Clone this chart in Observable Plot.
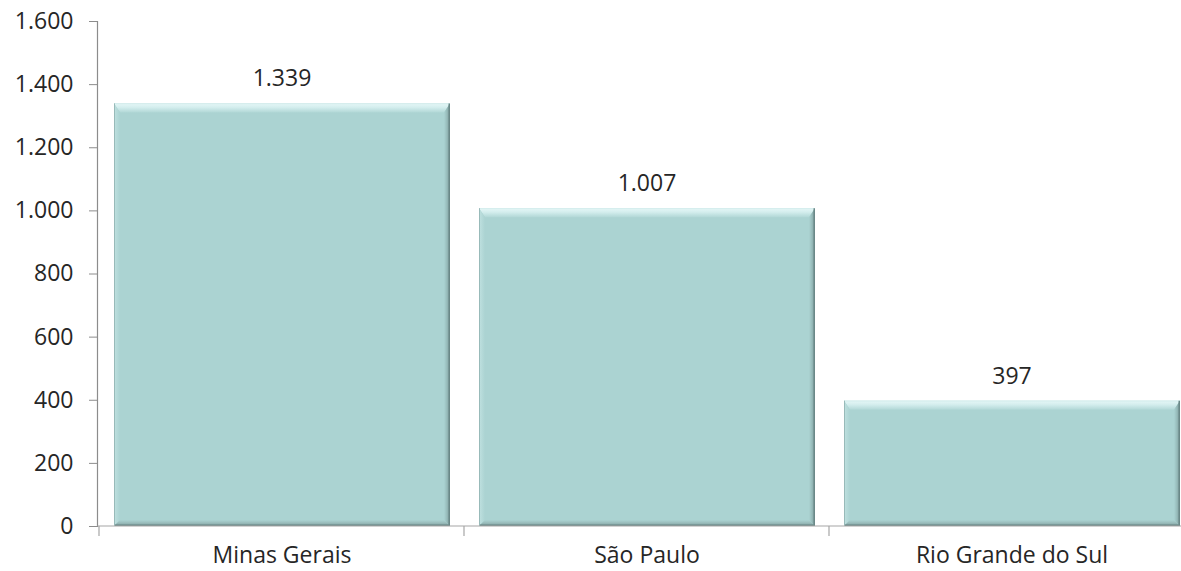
<!DOCTYPE html>
<html>
<head>
<meta charset="utf-8">
<script src="https://cdn.jsdelivr.net/npm/d3@7"></script>
<script src="https://cdn.jsdelivr.net/npm/@observablehq/plot@0.6"></script>
<style>
  html, body { margin: 0; padding: 0; background: #ffffff; }
  #chart svg { display: block; }
</style>
</head>
<body>
<div id="chart"></div>
<script>
// Estados e valores
const states = ["Minas Gerais", "São Paulo", "Rio Grande do Sul"];
const values = [1339, 1007, 397];
const yTicks = [0, 200, 400, 600, 800, 1000, 1200, 1400, 1600];

const data = states.map((state, i) => ({state, value: values[i]}));

// Brazilian number format: 1.339
const br = d3.formatLocale({decimal: ",", thousands: ".", grouping: [3], currency: ["R$", ""]});
const fmt = br.format(",d");

const FONT = "'Open Sans', sans-serif";
const TEXT = "#262626";
const BAR = "#abd3d2";

// Bevelled bars: draw the default rects, then overlay light/dark edges on each one
function bevel(index, scales, values, dimensions, context, next) {
  const g = next(index, scales, values, dimensions, context);
  const svg = d3.select(g);
  const rects = [];
  svg.selectAll("rect").each(function () { rects.push(this); });
  for (const r of rects) {
    const x = +r.getAttribute("x"), y = +r.getAttribute("y");
    const w = +r.getAttribute("width"), h = +r.getAttribute("height");
    const b = 9, s = 6;
    const parent = d3.select(r.parentNode);
    const poly = (pts, fill) => parent.append("polygon")
      .attr("points", pts.map(p => p.join(",")).join(" "))
      .attr("fill", fill);
    // top highlight
    poly([[x, y], [x + w, y], [x + w - s, y + b], [x + s, y + b]], "url(#bevel-top)");
    // left edge
    poly([[x, y], [x + s, y + b], [x + s, y + h - s], [x, y + h]], "url(#bevel-left)");
    // right edge (shadow)
    poly([[x + w, y], [x + w, y + h], [x + w - s, y + h - s], [x + w - s, y + b]], "url(#bevel-right)");
    // bottom edge (shadow)
    poly([[x, y + h], [x + w, y + h], [x + w - s, y + h - s], [x + s, y + h - s]], "url(#bevel-bottom)");
    // crisp outer edges
    parent.append("path")
      .attr("d", `M${x},${y + 0.5}H${x + w}`)
      .attr("stroke", "#d6eeee").attr("stroke-width", 1).attr("fill", "none");
    parent.append("path")
      .attr("d", `M${x + w - 0.75},${y}V${y + h - 0.75}H${x}`)
      .attr("stroke", "#6a8887").attr("stroke-width", 1.5).attr("fill", "none");
    parent.append("path")
      .attr("d", `M${x + 0.5},${y}V${y + h}`)
      .attr("stroke", "#98bab9").attr("stroke-width", 1).attr("fill", "none");
  }
  return g;
}

// Gradients used by the bevel edges
function defs() {
  const d = d3.create("svg:defs");
  const grad = (id, x1, y1, x2, y2, stops) => {
    const lg = d.append("linearGradient").attr("id", id)
      .attr("x1", x1).attr("y1", y1).attr("x2", x2).attr("y2", y2);
    for (const [o, c] of stops) lg.append("stop").attr("offset", o).attr("stop-color", c);
  };
  grad("bevel-top", 0, 0, 0, 1, [[0, "#e6f7f7"], [0.45, "#d3eded"], [1, "#b2d8d7"]]);
  grad("bevel-left", 0, 0, 1, 0, [[0, "#c0e1e0"], [1, BAR]]);
  grad("bevel-right", 0, 0, 1, 0, [[0, BAR], [0.5, "#97bbba"], [1, "#789796"]]);
  grad("bevel-bottom", 0, 0, 0, 1, [[0, BAR], [0.5, "#99bcbb"], [1, "#7c9b9a"]]);
  return d.node();
}

// Axis lines and boundary ticks between the category bands
function axes(index, scales, values, dimensions) {
  const {x, y} = scales;
  const {width, marginLeft, marginTop} = dimensions;
  const g = d3.create("svg:g").attr("fill", "none");
  const y0 = y(0);
  const left = marginLeft - 0.5;
  g.append("path").attr("d", `M${left},${marginTop}V${y0}`)
    .attr("stroke", "#8c8c8c").attr("stroke-width", 1.2);
  g.append("path").attr("d", `M${left},${y0}H${width}`)
    .attr("stroke", "#a6a6a6").attr("stroke-width", 1.2);
  const dom = x.domain();
  const edges = dom.map(d => x(d)).concat([x(dom[dom.length - 1]) + x.bandwidth()]);
  for (const e of edges) {
    g.append("path").attr("d", `M${e},${y0}V${y0 + 10}`)
      .attr("stroke", "#a6a6a6").attr("stroke-width", 1.2);
  }
  return g.node();
}

const chart = Plot.plot({
  width: 1181,
  height: 571,
  marginLeft: 98,
  marginRight: 0,
  marginTop: 21,
  marginBottom: 45,
  style: {fontFamily: FONT, fontSize: "23px", color: TEXT, background: "#ffffff"},
  x: {domain: states, range: [98, 1194], padding: 0, label: null},
  y: {domain: [0, 1600], label: null},
  marks: [
    defs,
    Plot.barY(data, {
      x: "state", y: "value", fill: BAR,
      insetLeft: 15, insetRight: 14,
      render: bevel
    }),
    axes,
    Plot.axisY({
      ticks: yTicks, tickFormat: fmt, tickSize: 9, tickPadding: 16,
      stroke: "#8c8c8c", fill: TEXT, fontSize: 23, label: null
    }),
    Plot.axisX({
      tickSize: 0, tickPadding: 20, fill: TEXT, fontSize: 23, label: null
    }),
    Plot.text(data, {
      x: "state", y: "value", text: d => fmt(d.value),
      dy: -25, fill: TEXT, fontSize: 23
    })
  ]
});

document.getElementById("chart").appendChild(chart);
</script>
</body>
</html>
